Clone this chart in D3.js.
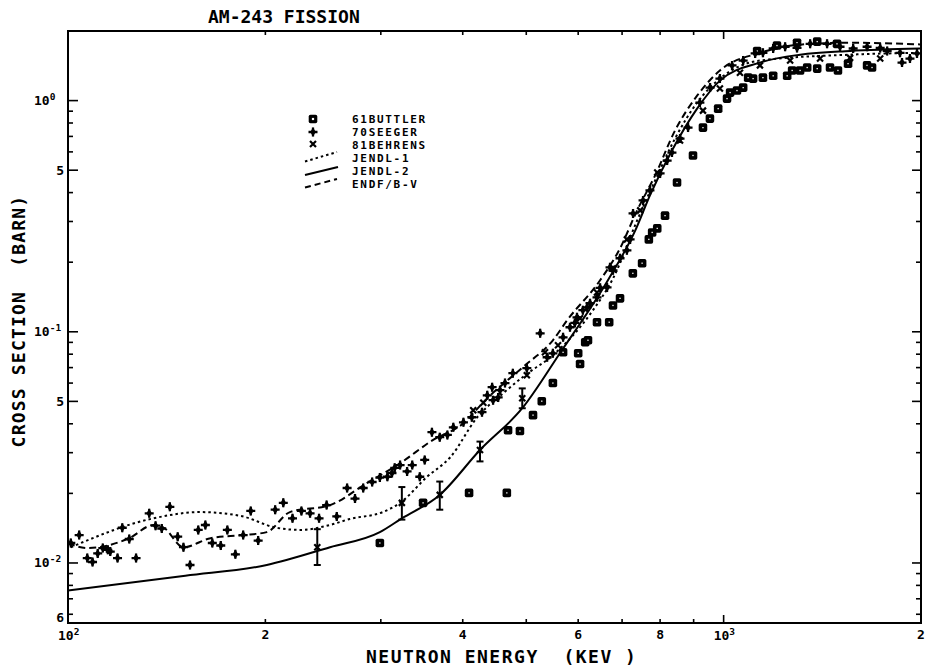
<!DOCTYPE html>
<html><head><meta charset="utf-8">
<script src="https://cdn.jsdelivr.net/npm/d3@7"></script>
<style>body{margin:0;background:#fff}text{font-family:"DejaVu Sans Mono",monospace;font-weight:bold;fill:#000}</style>
</head><body><svg id="c" width="926" height="670"></svg>
<script>
// ---------- data (energy keV, cross section barn) ----------
const jendl2 = [[100,0.0076],[151,0.0088],[201,0.0098],[251,0.0117],[299,0.0136],[323,0.0156],[369,0.0197],[425,0.0308],[493,0.0467],[563,0.081],[666,0.167],[733,0.274],[772,0.389],[834,0.608],[911,0.923],[987,1.22],[1136,1.46],[1308,1.58],[1559,1.64],[1993,1.68]];
const jendl1 = [[101,0.0117],[135,0.0156],[159,0.0166],[183,0.016],[208,0.0142],[226,0.0139],[251,0.0146],[269,0.0155],[302,0.0166],[321,0.0182],[353,0.0236],[383,0.0287],[421,0.0427],[461,0.0542],[498,0.0649],[549,0.0792],[632,0.124],[678,0.170],[738,0.303],[786,0.451],[843,0.685],[911,0.98],[987,1.245],[1136,1.49],[1559,1.58],[1993,1.61]];
const endfb5 = [[100,0.0122],[107,0.0116],[124,0.0128],[135,0.0146],[140,0.0142],[150,0.0117],[165,0.0128],[185,0.0132],[201,0.0136],[218,0.0166],[251,0.0178],[286,0.0222],[321,0.027],[360,0.034],[401,0.0402],[433,0.0506],[494,0.0703],[549,0.0919],[577,0.112],[648,0.167],[695,0.2295],[738,0.335],[786,0.474],[843,0.742],[911,1.05],[987,1.35],[1136,1.61],[1308,1.746],[1559,1.78],[1993,1.75]];

const butler = [[299,0.0122],[348,0.0182],[409,0.0201],[467,0.0201],[469,0.0375],[489,0.0372],[512,0.0436],[528,0.0501],[549,0.0600],[569,0.0815],[600,0.0807],[604,0.0725],[615,0.0901],[621,0.0919],[641,0.110],[669,0.110],[678,0.130],[695,0.1395],[727,0.179],[751,0.198],[769,0.251],[778,0.269],[792,0.280],[814,0.318],[849,0.442],[898,0.579],[930,0.764],[953,0.836],[981,0.923],[1012,1.02],[1023,1.083],[1048,1.105],[1071,1.138],[1090,1.257],[1109,1.245],[1148,1.257],[1190,1.28],[1250,1.28],[1272,1.35],[1308,1.35],[1341,1.39],[1389,1.375],[1453,1.39],[1494,1.35],[1548,1.445],[1655,1.42],[1684,1.39],[1125,1.64],[1206,1.73],[1294,1.78],[1389,1.80],[1489,1.76]];

const seeger = [[101,0.0122],[104,0.0132],[107,0.0105],[109,0.0101],[111,0.0110],[113,0.0116],[115,0.0114],[116,0.0112],[119,0.0105],[121,0.0142],[124,0.0127],[127,0.0105],[133,0.0164],[136,0.0145],[139,0.0141],[143,0.0175],[147,0.0130],[150,0.0117],[153.5,0.0098],[158,0.0139],[162,0.0146],[166,0.0122],[171,0.0119],[175,0.0139],[180,0.0109],[185,0.0132],[190,0.0168],[195,0.0125],[207,0.0170],[213,0.0182],[220,0.0156],[227,0.0168],[234,0.0164],[241.5,0.0156],[248,0.0178],
 [257,0.0159],[266.5,0.0211],[274,0.0190],[282,0.0211],[291,0.0224],[299,0.0234],[307,0.0236],[312,0.0245],[315,0.0258],[321,0.0265],[329,0.0249],[335,0.0265],[344,0.0236],[350,0.0279],[359,0.0368],[369,0.0350],[379,0.0358],[387,0.0386],[401,0.0406],[413,0.0427],[428,0.0449],[436,0.0531],[443.5,0.0576],[445,0.0506],[453,0.0520],[456,0.0559],[464,0.0600],[477,0.0662],[501,0.0696],[525,0.0985],[538,0.0776],[549,0.0807],[569,0.0946],[583,0.1046],[593,0.1092],[597.5,0.1155],[610,0.124],[619,0.1276],[625.5,0.133],[641,0.141],[648,0.155],[664,0.1556],[671,0.190],[678,0.1845],[695,0.208],[712,0.225],[720,0.251],[727.5,0.325],[753.5,0.370],[772,0.409],[800,0.484],[820,0.55],[834,0.596],
 [858,0.685],[882.5,0.764],[920,0.98],[953.5,1.138],[987,1.245],[1030,1.42],[1071,1.49],[1117,1.60],[1148,1.61],[1190,1.68],[1241,1.71],[1294,1.69],[1355,1.76],[1438,1.76],[1505,1.71],[1576,1.68],[1655,1.71],[1733,1.69],[1776,1.64],[1858,1.61],[1871,1.46],[1924,1.52],[1972,1.60]];

const behrens = [[415,0.0458],[430,0.0493],[501,0.0649],[534,0.0815],[559,0.0874],[604,0.1144],[641,0.148],[678,0.188],[712,0.251],[746,0.335],[792,0.489],[858,0.672],[930,0.905],[987,1.127],[1059,1.32],[1136,1.42],[1263,1.49],[1403,1.52],[1559,1.53],[1733,1.52]];
// error-bar points: [E, value, low, high]
const behrensErr = [[240,0.0117,0.0098,0.0140],[323,0.0182,0.0154,0.0213],[369,0.0197,0.0170,0.0225],[425,0.0308,0.0275,0.0335],[493,0.0516,0.0467,0.0569]];

const legendLabels = ["61BUTTLER","70SEEGER","81BEHRENS","JENDL-1","JENDL-2","ENDF/B-V"];
const xMinorTicks = [200,300,400,500,600,700,800,900];
const xMajorTicks = [1000];
const xTickLabels = [{v:200,t:"2"},{v:400,t:"4"},{v:600,t:"6"},{v:800,t:"8"},{v:2000,t:"2"}];
const xPowLabels = [{v:100,t:"10",s:"2"},{v:1000,t:"10",s:"3"}];
const yMinorTicks = [0.006,0.007,0.008,0.009,0.02,0.03,0.04,0.06,0.07,0.08,0.09,0.2,0.3,0.4,0.6,0.7,0.8,0.9,2];
const yMajorTicks = [0.01,0.05,0.1,0.5,1];
const yPowLabels = [{v:1,t:"10",s:"0"},{v:0.1,t:"10",s:"-1"},{v:0.01,t:"10",s:"-2"}];
const yDigitLabels = [{v:0.5,t:"5"},{v:0.05,t:"5"},{v:0.006,t:"6"}];

// ---------- drawing ----------
const svg = d3.select("#c");
const L=68,R=921,T=31,B=623;
const x = d3.scaleLog().domain([100,2000]).range([L,R]);
const y = d3.scaleLog().domain([0.0055,2.0]).range([B,T]);

svg.append("defs").append("clipPath").attr("id","clip")
  .append("rect").attr("x",L).attr("y",T).attr("width",R-L).attr("height",B-T);

// frame
svg.append("rect").attr("x",L).attr("y",T).attr("width",R-L).attr("height",B-T)
  .attr("fill","none").attr("stroke","#000").attr("stroke-width",2);

// ticks (inward on all four sides)
const tk = svg.append("g").attr("stroke","#000").attr("stroke-width",1.6);
yMinorTicks.forEach(v=>{
  tk.append("line").attr("x1",L).attr("x2",L+5).attr("y1",y(v)).attr("y2",y(v));
  tk.append("line").attr("x1",R).attr("x2",R-5).attr("y1",y(v)).attr("y2",y(v));
});
yMajorTicks.forEach(v=>{
  tk.append("line").attr("x1",L).attr("x2",L+10).attr("y1",y(v)).attr("y2",y(v));
  tk.append("line").attr("x1",R).attr("x2",R-9).attr("y1",y(v)).attr("y2",y(v));
});
xMinorTicks.forEach(v=>{
  tk.append("line").attr("x1",x(v)).attr("x2",x(v)).attr("y1",B).attr("y2",B-4);
  tk.append("line").attr("x1",x(v)).attr("x2",x(v)).attr("y1",T).attr("y2",T+4);
});
xMajorTicks.forEach(v=>{
  tk.append("line").attr("x1",x(v)).attr("x2",x(v)).attr("y1",B).attr("y2",B-8);
  tk.append("line").attr("x1",x(v)).attr("x2",x(v)).attr("y1",T).attr("y2",T+8);
});

// tick labels
yPowLabels.forEach(d=>{
  const t = svg.append("text").attr("x",34).attr("y",y(d.v)+4.5).attr("font-size",13).text(d.t);
  t.append("tspan").attr("dy",-5).attr("font-size",9.5).text(d.s);
});
yDigitLabels.forEach(d=>{
  const yy = d.v===0.006 ? y(d.v)+8 : y(d.v)+4.5;
  svg.append("text").attr("x",64).attr("y",yy).attr("text-anchor","end").attr("font-size",13).text(d.t);
});
xTickLabels.forEach(d=>{
  svg.append("text").attr("x",x(d.v)).attr("y",B+16).attr("text-anchor","middle").attr("font-size",13).text(d.t);
});
xPowLabels.forEach(d=>{
  const t = svg.append("text").attr("x",x(d.v)-10).attr("y",B+17).attr("font-size",13).text(d.t);
  t.append("tspan").attr("dy",-5).attr("font-size",9.5).text(d.s);
});

// titles
svg.append("text").attr("x",208).attr("y",23).attr("font-size",18).text("AM-243 FISSION");
svg.append("text").attr("x",366).attr("y",663).attr("font-size",18).attr("letter-spacing",1.5)
  .style("white-space","pre").text("NEUTRON ENERGY  (KEV )");
svg.append("text").attr("transform","translate(25,321) rotate(-90)").attr("text-anchor","middle")
  .attr("font-size",18).attr("letter-spacing",1.2).style("white-space","pre").text("CROSS SECTION  (BARN)");

// curves
const plot = svg.append("g").attr("clip-path","url(#clip)");
const line = d3.line().x(d=>x(d[0])).y(d=>y(d[1])).curve(d3.curveMonotoneX);
plot.append("path").attr("d",line(jendl1)).attr("fill","none").attr("stroke","#000").attr("stroke-width",2).attr("stroke-dasharray","2.5,3");
plot.append("path").attr("d",line(jendl2)).attr("fill","none").attr("stroke","#000").attr("stroke-width",2);
plot.append("path").attr("d",line(endfb5)).attr("fill","none").attr("stroke","#000").attr("stroke-width",2).attr("stroke-dasharray","7,4");

// markers
function squareMark(g,cx,cy,hole){
  g.append("rect").attr("x",cx-4.3).attr("y",cy-4.3).attr("width",8.6).attr("height",8.6).attr("rx",1.8).attr("fill","#000");
  g.append("rect").attr("x",cx-hole/2).attr("y",cy-hole/2).attr("width",hole).attr("height",hole).attr("fill","#fff");
}
const diamond = d3.symbol().type(d3.symbolDiamond).size(26)();
function plusMark(g,cx,cy){
  g.append("path").attr("d","M-4.5,0H4.5M0,-4.5V4.5").attr("transform",`translate(${cx},${cy})`).attr("stroke","#000").attr("stroke-width",2.3);
  g.append("path").attr("d",diamond).attr("transform",`translate(${cx},${cy})`).attr("fill","#000");
}
function crossMark(g,cx,cy){
  g.append("path").attr("d","M-3,-3L3,3M-3,3L3,-3").attr("transform",`translate(${cx},${cy})`).attr("stroke","#000").attr("stroke-width",2.2);
}
const mk = plot.append("g");
butler.forEach(d=>squareMark(mk,x(d[0]),y(d[1]),1.3));
seeger.forEach(d=>plusMark(mk,x(d[0]),y(d[1])));
behrens.forEach(d=>crossMark(mk,x(d[0]),y(d[1])));
behrensErr.forEach(d=>{
  const cx=x(d[0]);
  mk.append("line").attr("x1",cx).attr("x2",cx).attr("y1",y(d[2])).attr("y2",y(d[3])).attr("stroke","#000").attr("stroke-width",2);
  [d[2],d[3]].forEach(v=>mk.append("line").attr("x1",cx-3.5).attr("x2",cx+3.5).attr("y1",y(v)).attr("y2",y(v)).attr("stroke","#000").attr("stroke-width",2));
  crossMark(mk,cx,y(d[1]));
});

// legend
const lg = svg.append("g");
const rowsY = [123,136,149,162,175,188];
squareMark(lg,313,119,2.2);
plusMark(lg,313,132);
crossMark(lg,313,144);
lg.append("line").attr("x1",305).attr("y1",161.5).attr("x2",337).attr("y2",152).attr("stroke","#000").attr("stroke-width",2).attr("stroke-dasharray","2.5,3");
lg.append("line").attr("x1",305).attr("y1",175).attr("x2",338).attr("y2",167).attr("stroke","#000").attr("stroke-width",2);
lg.append("line").attr("x1",305).attr("y1",187.5).attr("x2",337).attr("y2",179).attr("stroke","#000").attr("stroke-width",2).attr("stroke-dasharray","6,4");
legendLabels.forEach((t,i)=>{
  lg.append("text").attr("x",352).attr("y",rowsY[i]).attr("font-size",11).attr("letter-spacing",1.7).text(t);
});
</script></body></html>
